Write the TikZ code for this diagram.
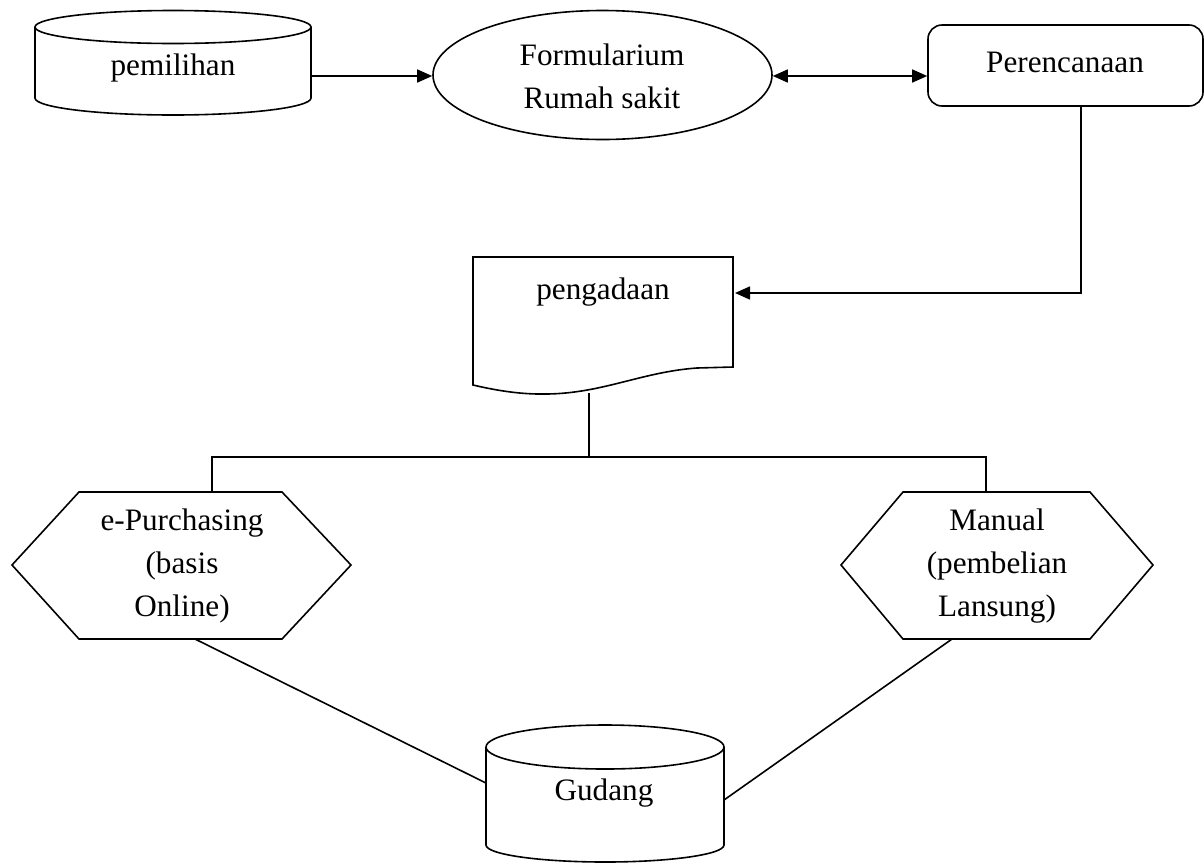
\documentclass[tikz,border=0pt]{standalone}
\usepackage{fontspec}
\setmainfont{Liberation Serif}
\usetikzlibrary{arrows.meta,shapes.geometric}
\begin{document}
\begin{tikzpicture}[x=0.5pt,y=0.5pt,line width=0.8pt,
  lbl/.style={font=\fontsize{15.6}{21.5}\selectfont, align=center, inner sep=0pt},
  arr/.style={-{Triangle[length=7.5pt,width=6.5pt]}},
  darr/.style={{Triangle[length=7.5pt,width=6.5pt]}-{Triangle[length=7.5pt,width=6.5pt]}},
  shp/.style={draw, line width=0.8pt}]
\useasboundingbox (0,0) rectangle (1204,-863);
% pemilihan cylinder
\draw[shp] (35,-27) -- (35,-98) arc[start angle=180,end angle=360,x radius=138,y radius=17] -- (311,-27);
\draw[shp] (173,-27) ellipse[x radius=138,y radius=16.5];
\node[lbl] (pemilihan) at (173,-68) {pemilihan};
\coordinate (pemE) at (311,-76);
% Formularium ellipse
\node[shp, ellipse, minimum width=169.5pt, minimum height=64.5pt, inner sep=0pt] (form) at (602.5,-75) {};
\node[lbl] (formtxt) at (602,-76) {Formularium\\Rumah sakit};
% Perencanaan
\node[shp, rounded corners=7pt, minimum width=137.5pt, minimum height=40.5pt, inner sep=0pt] (renc) at (1065.5,-65.5) {};
\node[lbl] (renctxt) at (1065,-62) {Perencanaan};
% pengadaan document
\draw[shp] (473,-257) -- (733,-257) -- (733,-367) -- (697,-368)
  .. controls (640,-372) and (600,-395) .. (540,-394)
  .. controls (515,-394) and (490,-389) .. (473,-385) -- cycle;
\node[lbl] (peng) at (603,-292) {pengadaan};
\coordinate (pengE) at (735,-293);
\coordinate (pengS) at (589,-393);
\coordinate (split) at (589,-457);
% left hexagon
\draw[shp] (12,-565) -- (79,-492) -- (282,-492) -- (351,-565) -- (282,-639) -- (79,-639) -- cycle;
\node[lbl] (epur) at (182,-566) {e-Purchasing\\(basis\\Online)};
\coordinate (hexLN) at (212,-492);
\coordinate (hexLS) at (195,-639);
% right hexagon
\draw[shp] (841,-565) -- (903,-492) -- (1090,-492) -- (1153,-565) -- (1090,-639) -- (903,-639) -- cycle;
\node[lbl] (manual) at (997,-566) {Manual\\(pembelian\\Lansung)};
\coordinate (hexRN) at (986,-492);
\coordinate (hexRS) at (952,-639);
% Gudang cylinder
\draw[shp] (486,-747) -- (486,-845) arc[start angle=180,end angle=360,x radius=119,y radius=17] -- (724,-747);
\draw[shp] (605,-747) ellipse[x radius=119,y radius=22];
\node[lbl] (gudang) at (604,-793) {Gudang};
\coordinate (gudW) at (486,-783);
\coordinate (gudE) at (724,-800);
% connectors
\draw[arr] (pemE) -- (pemE -| form.west);
\draw[darr] (form.east |- pemE) -- (renc.west |- pemE);
\draw[arr] (renc.south -| 1081,0) |- (pengE);
\draw (pengS) -- (split);
\draw (split) -| (hexLN);
\draw (split) -| (hexRN);
\draw (hexLS) -- (gudW);
\draw (hexRS) -- (gudE);
\end{tikzpicture}
\end{document}
